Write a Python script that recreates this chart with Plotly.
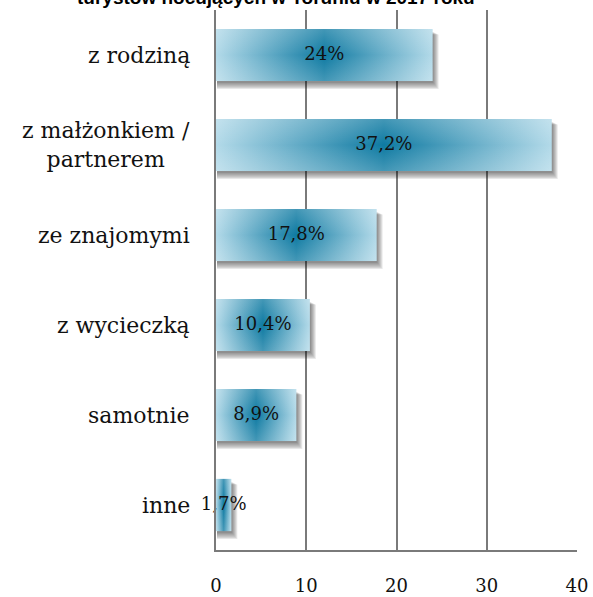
import plotly.graph_objects as go

categories = ["z rodziną", "z małżonkiem /<br>partnerem", "ze znajomymi", "z wycieczką", "samotnie", "inne"]
values = [24, 37.2, 17.8, 10.4, 8.9, 1.7]
value_labels = ["24%", "37,2%", "17,8%", "10,4%", "8,9%", "1,7%"]
tick_vals = [0, 10, 20, 30, 40]
tick_text = ["0", "10", "20", "30", "40"]
title_text = "turystów nocujących w Toruniu w 2017 roku"

W, H = 593, 597
ML, MR, MT, MB = 216, 16, 10, 47
PW = W - ML - MR
PH = H - MT - MB
XMAX = 40
XPX = XMAX / PW          # data units per pixel (x)
YPX = len(categories) / PH  # data units per pixel (y)
HALF = 0.29

LIGHT = "#b3dae9"
DARK = "#0e7aa2"

fig = go.Figure()

# soft shadows (layered)
for i, v in enumerate(values):
    for k in range(6):
        x0 = 1 * XPX
        x1 = v + (1 + k) * XPX
        y0 = i - HALF + (3 + k * 0.5) * YPX
        y1 = i + HALF + (2 + k * 1.2) * YPX
        fig.add_trace(go.Scatter(
            x=[x0, x1, x1, x0, x0], y=[y0, y0, y1, y1, y0],
            mode="lines", fill="toself", line=dict(width=0),
            fillcolor="rgba(0,0,0,0.09)", hoverinfo="skip", showlegend=False))

# gradient bars
for i, v in enumerate(values):
    y0, y1 = i - HALF, i + HALF
    fig.add_trace(go.Scatter(
        x=[0, v, v, 0, 0], y=[y0, y0, y1, y1, y0],
        mode="lines", fill="toself", line=dict(width=0),
        fillgradient=dict(type="horizontal",
                          colorscale=[[0, LIGHT], [0.5, DARK], [1, LIGHT]]),
        hoverinfo="skip", showlegend=False))
    # subtle vertical sheen (lighter top/bottom edges)
    fig.add_trace(go.Scatter(
        x=[0, v, v, 0, 0], y=[y0, y0, y1, y1, y0],
        mode="lines", fill="toself", line=dict(width=0),
        fillgradient=dict(type="vertical",
                          colorscale=[[0, "rgba(255,255,255,0.22)"],
                                      [0.5, "rgba(255,255,255,0)"],
                                      [1, "rgba(255,255,255,0.22)"]]),
        hoverinfo="skip", showlegend=False))

# value labels
fig.add_trace(go.Scatter(
    x=[v / 2 for v in values], y=list(range(len(values))),
    mode="text", text=value_labels, cliponaxis=False,
    textfont=dict(family="DejaVu Serif", size=18, color="#111111"),
    hoverinfo="skip", showlegend=False))

# category labels
for i, c in enumerate(categories):
    fig.add_annotation(x=-(ML - 192) / PW, xref="paper", y=i, yref="y",
                       text=c, showarrow=False, xanchor="right", yanchor="middle",
                       align="center",
                       font=dict(family="DejaVu Serif", size=22, color="#111111"))

# title (partially cut at top)
fig.add_annotation(x=(276 - ML) / PW, xref="paper", y=1.0, yref="paper",
                   text="<b>" + title_text + "</b>", showarrow=False,
                   xanchor="center", yanchor="bottom",
                   font=dict(family="Liberation Sans", size=19, color="#000000"))

fig.update_layout(
    width=W, height=H,
    margin=dict(l=ML, r=MR, t=MT, b=MB),
    paper_bgcolor="white", plot_bgcolor="white",
    xaxis=dict(range=[0, XMAX], tickvals=tick_vals, ticktext=tick_text,
               automargin=False,
               showgrid=True, gridcolor="#7a7a7a", gridwidth=1.6,
               zeroline=False, showline=True, linecolor="#7a7a7a", linewidth=2,
               ticks="", ticklabelstandoff=18,
               tickfont=dict(family="DejaVu Serif", size=18, color="#111111")),
    yaxis=dict(range=[len(categories) - 0.5, -0.5], showticklabels=False,
               automargin=False,
               showgrid=False, zeroline=False, showline=True,
               linecolor="#7a7a7a", linewidth=2),
)

fig.write_html("out.html", config={"displayModeBar": False},
               post_script="document.body.style.margin='0';document.body.style.overflow='hidden';")
